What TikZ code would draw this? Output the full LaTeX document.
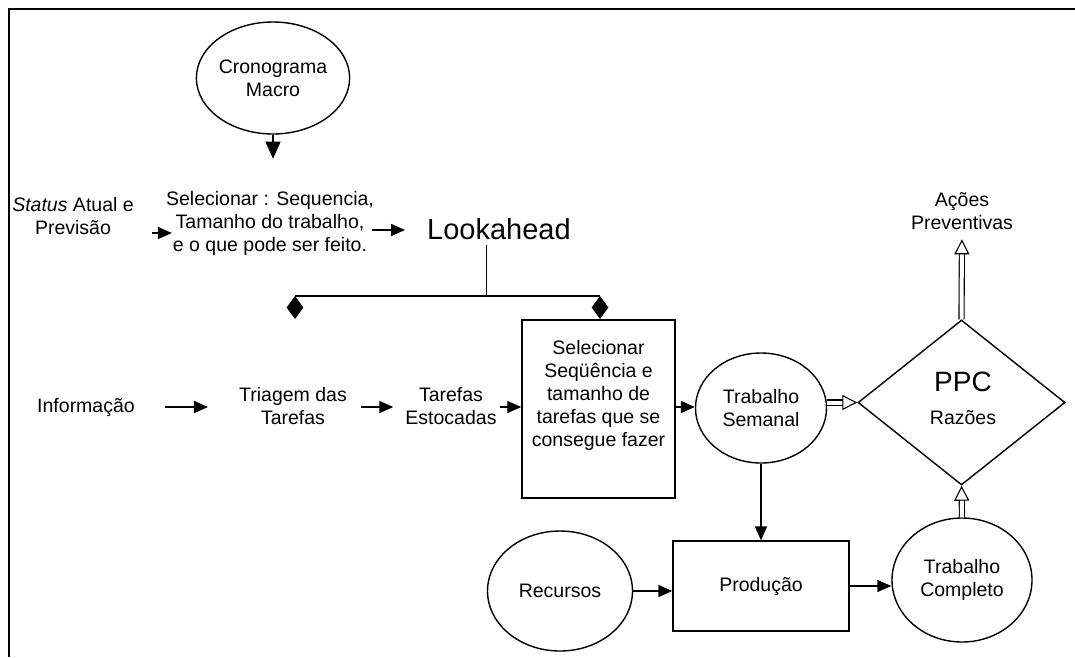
\documentclass[tikz,border=0pt]{standalone}
\usepackage{fontspec}
\setmainfont{Liberation Sans}
\usetikzlibrary{shapes.geometric,arrows.meta,calc}
\begin{document}
\begin{tikzpicture}[x=1pt,y=-1pt,
  txt/.style={align=center,font=\fontsize{19.5}{23}\selectfont,inner sep=0pt},
  ell/.style={ellipse,draw,line width=1.4pt,inner sep=0pt,align=center,font=\fontsize{19.5}{23}\selectfont},
  boxs/.style={rectangle,draw,line width=1.4pt,inner sep=0pt,align=center,font=\fontsize{19.5}{23}\selectfont},
  arr/.style={line width=1.6pt,-{Triangle[length=14pt,width=12pt]}},
  bigarr/.style={line width=1.4pt,-{Triangle[length=17pt,width=15pt]}},
  dbl/.style={double,double distance=4pt,line width=1.1pt,-{Triangle[open,length=15pt,width=15pt]}},
  blk/.style={diamond,fill=black,inner sep=0pt,minimum width=17pt,minimum height=23pt},
]
\useasboundingbox (0,0) rectangle (1075,657);
% frame
\draw[line width=2pt] (9,657) -- (9,9) -- (1075,9);

% top part
\node[ell,minimum width=133pt,minimum height=112pt] (crono) at (273,78) {Cronograma\\Macro};
\draw[bigarr] (crono.south) -- ++(0,24);

\node[txt] (status) at (73,216.5) {\textit{Status} Atual e\\Previsão};
\node[txt] (sel) at (270,223) {Selecionar : Sequencia,\\Tamanho do trabalho,\\e o que pode ser feito.};
\node[txt,font=\fontsize{29}{32}\selectfont] (look) at (499,229) {Lookahead};

\draw[arr,shorten <=18pt,shorten >=-6pt] (status.east|-0,233) -- (sel.west|-0,233);
\draw[arr,shorten <=-2pt,shorten >=22pt] (sel.east|-0,230) -- (look.west|-0,230);

% lookahead bar
\coordinate (j) at (486,296);
\node[blk] (dl) at (295,307.5) {};
\node[blk] (dr) at (600,307.5) {};
\draw[line width=1pt] ($(j|-look.south)+(0,5)$) -- (j);
\draw[line width=2pt] (dl.north) -- (dr.north);

% middle row
\node[txt] (info) at (86,407) {Informação};
\node[txt] (triage) at (293,406) {Triagem das\\Tarefas};
\node[txt] (stock) at (451,406) {Tarefas\\Estocadas};
\node[boxs,minimum width=153pt,minimum height=178pt] (selbox) at (598.5,409) {};
\node[txt] (seltxt) at ($(selbox.center)+(0,-14)$) {Selecionar\\Seqüência e\\tamanho de\\tarefas que se\\consegue fazer};
\node[ell,minimum width=131pt,minimum height=110pt] (ts) at (761,408) {Trabalho\\Semanal};

\draw[arr,shorten <=30pt,shorten >=31pt] (info.east|-0,407) -- (triage.west|-0,407);
\draw[arr,shorten <=14pt,shorten >=12pt] (triage.east|-0,407) -- (stock.west|-0,407);
\draw[arr,shorten <=3pt] (stock.east|-0,407) -- (selbox.west|-0,407);
\draw[arr] (selbox.east|-0,407) -- (ts.west|-0,407);

% PPC
\node[diamond,draw,line width=1.4pt,inner sep=0pt,minimum width=207pt,minimum height=165pt] (ppc) at (961.5,402.5) {};
\node[font=\fontsize{28}{30}\selectfont,inner sep=0pt] (ppct) at (963,382) {PPC};
\node[txt] (raz) at (963,418) {Razões};
\node[txt] (acoes) at (962,211.5) {Ações\\Preventivas};

\draw[dbl] (ts.east|-ppc.west) -- (ppc.west);
\draw[dbl,shorten >=9pt] (ppc.north) -- (acoes.south);

% bottom row
\node[boxs,minimum width=176pt,minimum height=90pt] (prod) at (761,586) {Produção};
\node[ell,minimum width=145pt,minimum height=120pt] (rec) at (560,591) {Recursos};
\node[ell,minimum width=140pt,minimum height=124pt] (tc) at (962,580) {Trabalho\\Completo};

\draw[arr] (ts.south) -- (prod.north);
\draw[arr] (rec.east) -- (prod.west|-rec.east);
\draw[arr] (prod.east) -- (tc.west|-prod.east);
\draw[dbl] (tc.north) -- (ppc.south);
\end{tikzpicture}
\end{document}
